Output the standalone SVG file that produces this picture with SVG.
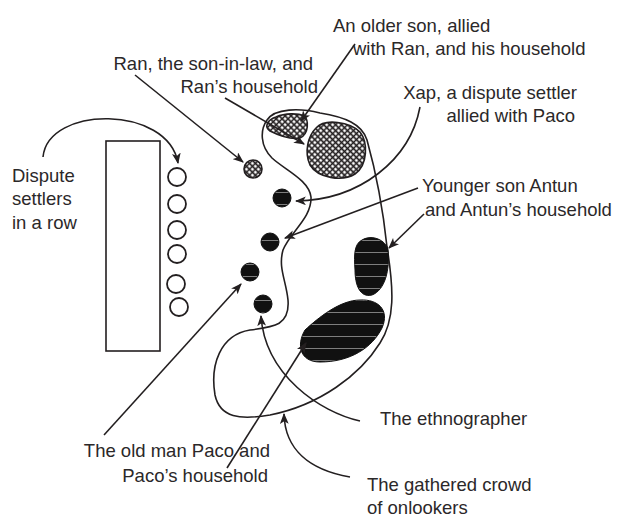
<svg xmlns="http://www.w3.org/2000/svg" width="618" height="517" viewBox="0 0 618 517">
<defs>
<style>
text{font-family:"Liberation Sans",Arial,sans-serif;font-size:18.5px;fill:#2b2829}
.ln{fill:none;stroke:#231f20;stroke-width:1.6}
.ar{fill:none;stroke:#231f20;stroke-width:1.6;marker-end:url(#ah)}
.e{text-anchor:end}
.hatch{fill:url(#hatch);stroke:#231f20;stroke-width:1.6}
.strp{fill:url(#stripes);stroke:#111;stroke-width:1}
</style>
<marker id="ah" viewBox="0 0 10 8" refX="9" refY="4" markerWidth="11" markerHeight="9" orient="auto" markerUnits="userSpaceOnUse">
<path d="M0,0 L10,4 L0,8 L2.5,4 Z" fill="#231f20"/>
</marker>
<pattern id="hatch" patternUnits="userSpaceOnUse" width="4.2" height="4.2" patternTransform="rotate(45)">
<rect width="4.2" height="4.2" fill="#fff"/>
<path d="M0,2.1 H4.2 M2.1,0 V4.2" stroke="#231f20" stroke-width="1.5"/>
</pattern>
<pattern id="stripes" patternUnits="userSpaceOnUse" width="12" height="12">
<rect width="12" height="12" fill="#111"/>
<rect y="0" width="12" height="0.9" fill="#8a8a8a"/>
</pattern>
</defs>
<rect width="618" height="517" fill="#fff"/>

<g id="crowd">
<path class="ln" d="M267,120 C275,108 300,108 320,113 C345,117 362,124 367,140 C374,165 382,200 387,247 C394,290 395,320 380,343 C360,375 320,405 270,415 C240,420 220,418 215,395 C210,365 220,335 250,330 C275,327 290,325 288,300 C286,280 278,268 283,250 C290,232 312,218 311,197 C309,180 285,170 272,158 C260,146 260,130 267,120 Z"/>
</g>

<g id="settlers">
<rect x="106" y="141" width="54" height="210" fill="none" stroke="#231f20" stroke-width="1.6"/>
<g fill="none" stroke="#231f20" stroke-width="1.8">
<circle cx="177" cy="177" r="9"/>
<circle cx="177" cy="204" r="9"/>
<circle cx="177" cy="230" r="9"/>
<circle cx="177" cy="254" r="9"/>
<circle cx="176" cy="284" r="9"/>
<circle cx="179" cy="307" r="9"/>
</g>
</g>

<g id="ran"><circle class="hatch" cx="253" cy="169" r="9"/></g>
<g id="older-son"><path class="hatch" d="M276,117 C285,113 298,113 304,116 C309,120 309,134 300,138 C290,140 278,135 270,131 C264,127 267,120 276,117 Z"/></g>
<g id="ran-household"><path class="hatch" d="M316,128 C325,118 350,122 360,132 C368,142 368,165 355,174 C342,182 318,178 310,165 C304,152 308,136 316,128 Z"/></g>

<g id="xap"><circle class="strp" cx="282" cy="198" r="9"/></g>
<g id="antun"><circle class="strp" cx="270" cy="242" r="9"/></g>
<g id="paco"><circle class="strp" cx="250" cy="272" r="9"/></g>
<g id="ethnographer"><circle class="strp" cx="263" cy="304" r="9"/></g>
<g id="antun-household"><path class="strp" d="M362,240 C372,234 386,240 388,250 C390,270 385,290 372,295 C360,298 355,285 355,270 C354,255 354,244 362,240 Z"/></g>
<g id="paco-household"><path class="strp" d="M305,330 C318,318 340,300 360,300 C378,299 390,310 382,328 C372,348 350,362 320,362 C300,362 296,345 305,330 Z"/></g>

<g id="connectors">
<path class="ar" d="M43,157 C48,105 168,105 178,163"/>
<path class="ar" d="M135,75 L243,162"/>
<path class="ar" d="M225,98 L304,144"/>
<path class="ar" d="M355,44 L301,121"/>
<path class="ar" d="M420,107 C410,160 360,200 296,201"/>
<path class="ar" d="M418,188 L285,238"/>
<path class="ar" d="M424,214 L389,248"/>
<path class="ar" d="M104,435 L241,284"/>
<path class="ar" d="M227,468 L306,343"/>
<path class="ar" d="M360,421 C320,412 265,375 261,316"/>
<path class="ar" d="M350,477 C310,470 285,450 284,414"/>
</g>

<g id="labels">
<text x="333" y="32">An older son, allied</text>
<text x="353" y="55">with Ran, and his household</text>
<text class="e" x="313" y="70">Ran, the son-in-law, and</text>
<text class="e" x="318" y="93">Ran’s household</text>
<text class="e" x="577" y="99">Xap, a dispute settler</text>
<text class="e" x="575" y="122">allied with Paco</text>
<text x="12" y="182">Dispute</text>
<text x="12" y="205">settlers</text>
<text x="12" y="229">in a row</text>
<text x="422" y="192">Younger son Antun</text>
<text x="425" y="216">and Antun’s household</text>
<text x="380" y="425">The ethnographer</text>
<text class="e" x="270" y="457">The old man Paco and</text>
<text class="e" x="268" y="482">Paco’s household</text>
<text x="367" y="491">The gathered crowd</text>
<text x="367" y="514">of onlookers</text>
</g>
</svg>
